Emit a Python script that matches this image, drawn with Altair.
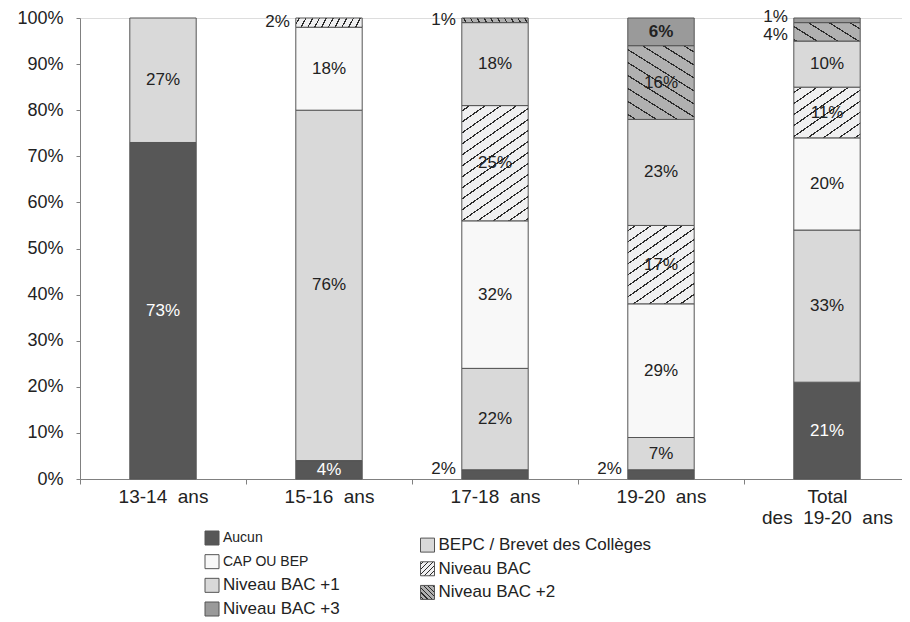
import math
import altair as alt
import pandas as pd

# ---------------- data ----------------
categories = ["13-14 ans", "15-16 ans", "17-18 ans", "19-20 ans", "Total des 19-20 ans"]
series = ["Aucun", "BEPC / Brevet des Collèges", "CAP OU BEP", "Niveau BAC",
          "Niveau BAC +1", "Niveau BAC +2", "Niveau BAC +3"]
aucun = [73, 4, 2, 2, 21]
bepc = [27, 76, 22, 7, 33]
cap_bep = [0, 18, 32, 29, 20]
niveau_bac = [0, 2, 25, 17, 11]
niveau_bac1 = [0, 0, 18, 23, 10]
niveau_bac2 = [0, 0, 1, 16, 4]
niveau_bac3 = [0, 0, 0, 6, 1]
y_ticks = [0, 10, 20, 30, 40, 50, 60, 70, 80, 90, 100]

series_values = [aucun, bepc, cap_bep, niveau_bac, niveau_bac1, niveau_bac2, niveau_bac3]

# labels drawn to the left of their bar (category, series, vertical nudge px)
outside_labels = [
    ("15-16 ans", "Niveau BAC", -1),
    ("17-18 ans", "Aucun", -5),
    ("17-18 ans", "Niveau BAC +2", 0),
    ("19-20 ans", "Aucun", -5),
    ("Total des 19-20 ans", "Niveau BAC +3", -3),
    ("Total des 19-20 ans", "Niveau BAC +2", 3),
]

# ---------------- styles ----------------
FONT = "Liberation Sans"
TXT = "#222222"
AXC = "#808080"
colors = ["#575757", "#d9d9d9", "#f8f8f8", "#f0f0f1", "#d9d9d9", "#b0b0b0", "#9a9a9a"]
HATCH_FG = "#2a2a2a"

TOP = 10
W, H = 822, 461
X_RANGE = 830
STEP = X_RANGE / len(categories)
BAND = 0.4
BAR_W = STEP * BAND


def hatch(w, h, theta, period, lw, bg, fg, back=False):
    s, c = math.sin(math.radians(theta)), math.cos(math.radians(theta))
    L = w * s + h * c
    if back:
        a, b = -w * s / L, h * c / L
        x1, y1 = 1.0, 0.0
    else:
        a, b = w * s / L, h * c / L
        x1, y1 = 0.0, 0.0
    n2 = a * a + b * b
    x2, y2 = x1 + a / n2, y1 + b / n2
    half = lw / 2 / L
    stops = [{"offset": 0, "color": bg}]
    t = period * 0.5
    while t < L + lw:
        tc = t / L
        lo, hi = max(0.0, tc - half), min(1.0, tc + half)
        if lo < 1:
            stops += [{"offset": round(lo, 5), "color": bg},
                      {"offset": round(lo, 5), "color": fg},
                      {"offset": round(hi, 5), "color": fg},
                      {"offset": round(hi, 5), "color": bg}]
        t += period
    stops.append({"offset": 1, "color": bg})
    return {"gradient": "linear", "x1": round(x1, 5), "y1": round(y1, 5),
            "x2": round(x2, 5), "y2": round(y2, 5), "stops": stops}


def seg_hatch(ser, pct):
    h = pct / 100 * H
    if ser == "Niveau BAC":
        if h < 14:
            return hatch(BAR_W, h, 62, 6, 1.2, colors[3], HATCH_FG)
        return hatch(BAR_W, h, 35, 9, 1.2, colors[3], HATCH_FG)
    else:
        if h < 14:
            return hatch(BAR_W, h, 62, 6, 1.2, colors[5], HATCH_FG, back=True)
        return hatch(BAR_W, h, 32, 11, 1.2, colors[5], HATCH_FG, back=True)


# ---------------- long table ----------------
rows = []
out_keys = {f"{c}|{s}" for c, s, _ in outside_labels}
for si, (s, vals) in enumerate(zip(series, series_values)):
    for ci, (c, v) in enumerate(zip(categories, vals)):
        if v > 0:
            k = f"{c}|{s}"
            rows.append({"cat": c, "series": s, "value": v, "order": si, "key": k,
                         "label": f"{v}%", "outside": k in out_keys})
df = pd.DataFrame(rows)

hatched = df[df["series"].isin(["Niveau BAC", "Niveau BAC +2"])]
bar_conditions = [{"test": f"datum.key === '{r.key}'", "value": seg_hatch(r.series, r.value)}
                  for r in hatched.itertuples()]

legend_df = pd.DataFrame({"series": series})
legend_df["col"] = [i % 2 for i in range(len(series))]
legend_df["lrow"] = [i // 2 + 0.3 * (i % 2) for i in range(len(series))]
legend_conditions = [
    {"test": "datum.series === 'Niveau BAC'",
     "value": hatch(14, 14, 45, 3.6, 1.0, colors[3], HATCH_FG)},
    {"test": "datum.series === 'Niveau BAC +2'",
     "value": hatch(14, 14, 45, 3.2, 1.0, colors[5], HATCH_FG, back=True)},
]

label_expr = ("datum.value == null ? '' : "
              "datum.value === 'Total des 19-20 ans' ? "
              "['Total', 'des\u00a0\u00a019-20\u00a0\u00a0ans'] : "
              "replace(datum.value, ' ', '\u00a0\u00a0')")

x_scale = alt.Scale(domain=categories, range=[0, X_RANGE], paddingInner=0, paddingOuter=0)
y_scale = alt.Scale(domain=[0, 100], nice=False, zero=True)


def x_enc(axis=None):
    return alt.X("cat:N", sort=categories, scale=x_scale, axis=axis)


def y_enc(field, axis=None):
    return alt.Y(f"{field}:Q", scale=y_scale, axis=axis)


x_axis = alt.Axis(title=None, labelFont=FONT, labelFontSize=19, labelColor=TXT,
                  labelPadding=3, labelAngle=0, labelExpr=label_expr, labelLineHeight=21,
                  tickBand="extent", tickSize=5, tickColor=AXC, domainColor=AXC,
                  grid=False, labelLimit=300)
y_axis = alt.Axis(title=None, values=y_ticks, labelExpr="datum.value + '%'",
                  labelFont=FONT, labelFontSize=18, labelColor=TXT, labelPadding=13,
                  tickSize=4, tickColor=AXC, domainColor=AXC, grid=False)

base = (alt.Chart(df)
        .transform_stack(stack="value", as_=["y0", "y1"], groupby=["cat"],
                         sort=[alt.SortField("order", order="ascending")])
        .transform_calculate(mid="(datum.y0 + datum.y1) / 2"))

bars = base.mark_bar(stroke="#555555", strokeWidth=1,
                     width=alt.RelativeBandSize(BAND)).encode(
    x=x_enc(x_axis),
    y=y_enc("y0", y_axis),
    y2="y1",
    fill=alt.Fill("series:N", scale=alt.Scale(domain=series, range=colors),
                  legend=None, condition=bar_conditions),
)

inside = base.transform_filter(
    "!datum.outside && datum.series !== 'Niveau BAC +3'"
).mark_text(font=FONT, fontSize=17, baseline="middle", align="center").encode(
    x=x_enc(), y=y_enc("mid"), text="label:N",
    color=alt.condition("datum.series === 'Aucun'", alt.value("#ffffff"), alt.value(TXT)),
)

inside_bold = base.transform_filter(
    "!datum.outside && datum.series === 'Niveau BAC +3'"
).mark_text(font=FONT, fontSize=17, fontWeight="bold", baseline="middle",
            align="center", color=TXT).encode(
    x=x_enc(), y=y_enc("mid"), text="label:N",
)

outside_layers = []
for c, s, nudge in outside_labels:
    outside_layers.append(
        base.transform_filter(f"datum.key === '{c}|{s}'")
        .mark_text(font=FONT, fontSize=17, baseline="middle", align="right",
                   dx=-(BAR_W / 2 + 6), dy=nudge, color=TXT)
        .encode(x=x_enc(), y=y_enc("mid"), text="label:N")
    )

# legend placed below the plot (view coordinates)
lx = alt.X("col:Q", scale=alt.Scale(domain=[0, 1], range=[132, 347.5], nice=False, zero=False),
           axis=None)
ly = alt.Y("lrow:Q", scale=alt.Scale(domain=[0, 3], range=[538 - 8 - TOP, 609 - 8 - TOP],
                                      nice=False, zero=False),
           axis=None)

leg_sym = alt.Chart(legend_df).mark_square(size=196, stroke="#555555", strokeWidth=1,
                                            filled=True, opacity=1).encode(
    x=lx, y=ly,
    fill=alt.Fill("series:N", scale=alt.Scale(domain=series, range=colors),
                  legend=None, condition=legend_conditions),
)

leg_txt = alt.Chart(legend_df).mark_text(font=FONT, align="left", baseline="middle",
                                          dx=11, color=TXT).encode(
    x=lx, y=ly, text="series:N",
    size=alt.condition("datum.series === 'Aucun' || datum.series === 'CAP OU BEP'",
                       alt.value(14), alt.value(17)),
)

chart = alt.layer(bars, inside, inside_bold, *outside_layers, leg_sym, leg_txt).resolve_scale(
    x="independent", y="independent"
).properties(
    width=W, height=H,
    padding={"left": 72, "top": TOP, "right": 0, "bottom": 614 - TOP - H},
    autosize=alt.AutoSizeParams(type="none"),
).configure_view(stroke=None).configure(background="white")

chart.save("out.html", embed_options={"renderer": "svg", "actions": False})
